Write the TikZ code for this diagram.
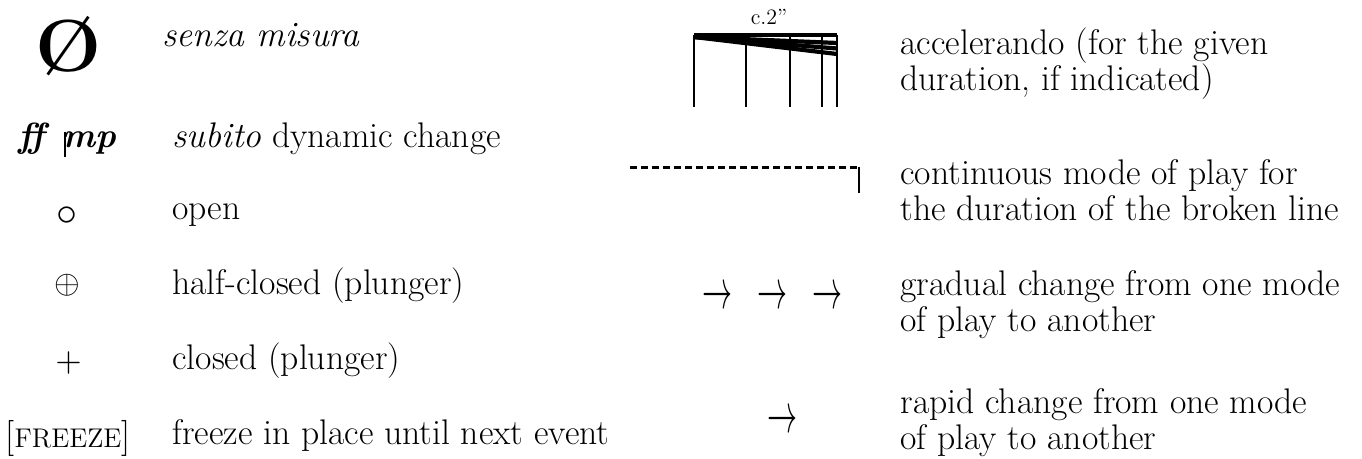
\documentclass[tikz,border=0pt]{standalone}
\usepackage{fontspec}
\usepackage{graphicx}
\tikzset{
  desc/.style={anchor=base west, inner sep=0pt, font=\fontsize{17.8}{18.3}\selectfont, align=left},
  sym/.style={inner sep=0pt},
  stem/.style={line width=0.8pt},
  beam/.style={line width=2.1pt},
  dyn/.style={inner sep=0pt, anchor=base},
  arr/.style={inner sep=0pt},
}
\newcommand{\dynmark}[1]{\scalebox{1.75}{\bfseries\itshape #1}}
\newcommand{\modearrow}{\scalebox{1.5}[2.8]{$\rightarrow$}}
\begin{document}
\begin{tikzpicture}[x=0.5pt,y=-0.5pt]
\useasboundingbox (0,0) rectangle (1362,459);

% ---- left column ----
\node[sym, anchor=base] (null) at (68.5,72) {\scalebox{3.7}{\bfseries\O}};
\node[desc] (tsenza) at (162,47) {\itshape senza misura};

\node[dyn] (ff) at (32,148) {\dynmark{ff}};
\coordinate (bartop) at (65,132);
\coordinate (barbot) at (65,157);
\draw[line width=0.6pt] (bartop) -- (barbot);
\node[dyn] (mp) at (89,148) {\dynmark{mp}};
\node[desc] (tsubito) at (172,148) {\textit{subito} dynamic change};

\node[sym] (open) at (66.5,216.5) {\scalebox{2.1}{$\circ$}};
\node[desc] (topen) at (172,220) {open};

\node[sym] (half) at (67,285.5) {\scalebox{1.65}{$\oplus$}};
\node[desc] (thalf) at (172,295) {half-closed (plunger)};

\node[sym] (closed) at (68.5,363) {\scalebox{1.7}{$+$}};
\node[desc] (tclosed) at (172,370) {closed (plunger)};

\node[sym, anchor=base] (freeze) at (68,448) {{\fontsize{18}{18}\selectfont[}{\fontsize{13.5}{13.5}\selectfont FREEZE}{\fontsize{18}{18}\selectfont]}};
\node[desc] (tfreeze) at (172,445) {freeze in place until next event};

% ---- accelerando figure ----
\node[sym, anchor=base] (dur) at (769,25) {\fontsize{11}{11}\selectfont c.2''};
\coordinate (s1t) at (694,35);  \coordinate (s1b) at (694,107);
\coordinate (s2t) at (746,35);  \coordinate (s2b) at (746,107);
\coordinate (s3t) at (790,35);  \coordinate (s3b) at (790,107);
\coordinate (s4t) at (822,35);  \coordinate (s4b) at (822,107);
\coordinate (s5t) at (837,35);  \coordinate (s5b) at (837,107);
\foreach \i in {1,...,5} {\draw[stem] (s\i t) -- (s\i b);}
\draw[beam] (s1t) -- (s5t);
\coordinate (bstart) at (694,37);
\coordinate (b1) at (837,43);
\coordinate (b2) at (837,48.5);
\coordinate (b3) at (837,54);
\draw[beam] (bstart) -- (b1);
\draw[beam] (bstart) -- (b2);
\draw[beam] (bstart) -- (b3);
\node[desc] (tacc) at (900,91) {accelerando (for the given\\duration, if indicated)};

% ---- continuous line ----
\coordinate (dl) at (630,168);
\coordinate (dr) at (858,168);
\coordinate (dtop) at (859,167);
\coordinate (dend) at (859,193);
\draw[line width=1.5pt, dash pattern=on 3.5pt off 2pt] (dl) -- (dr);
\draw[line width=1.2pt] (dtop) -- (dend);
\node[desc] (tcont) at (900,221) {continuous mode of play for\\the duration of the broken line};

% ---- gradual change ----
\node[arr] (a1) at (717,298) {\modearrow};
\node[arr] (a2) at (772,298) {\modearrow};
\node[arr] (a3) at (827,298) {\modearrow};
\node[desc] (tgrad) at (900,332) {gradual change from one mode\\of play to another};

% ---- rapid change ----
\node[arr] (a4) at (782,422) {\modearrow};
\node[desc] (trapid) at (900,450) {rapid change from one mode\\of play to another};
\end{tikzpicture}
\end{document}
